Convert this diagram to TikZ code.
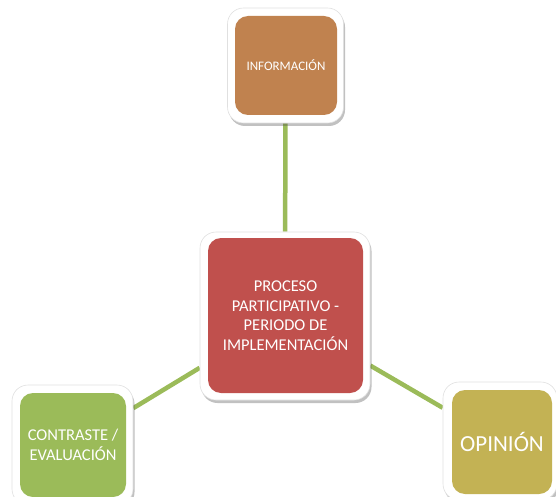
\documentclass[tikz,border=0pt]{standalone}
\usepackage{fontspec}
\setmainfont{Carlito}
\usetikzlibrary{backgrounds,shadows}
\definecolor{infoc}{HTML}{C0824F}
\definecolor{procc}{HTML}{C0504D}
\definecolor{contc}{HTML}{9BBB59}
\definecolor{opic}{HTML}{C3B254}
\definecolor{linkc}{HTML}{9BBB59}
\tikzset{
  frame/.style={draw=black!12, line width=0.6pt, fill=white, rounded corners=16pt, inner sep=0pt,
    drop shadow={opacity=0.35, shadow xshift=1.5pt, shadow yshift=-3pt, fill=black!70}},
  card/.style={draw=none, rounded corners=13pt, inner sep=2pt, text=white, align=center},
  link/.style={draw=linkc, line width=4.5pt}
}
\begin{document}
\begin{tikzpicture}[x=1pt,y=-1pt]
\useasboundingbox (0,0) rectangle (556,497);
% frames
\node[frame, minimum width=116pt, minimum height=115pt] (infoF) at (285.5,65.5) {};
\node[frame, minimum width=170pt, minimum height=168pt] (procF) at (285,316) {};
\node[frame, minimum width=121pt, minimum height=120pt] (contF) at (72.5,445) {};
\node[frame, minimum width=114pt, minimum height=118pt] (opiF) at (500,441) {};
% cards
\node[card, fill=infoc, minimum width=102pt, minimum height=99pt, font=\fontsize{13}{15}\selectfont] (info) at (286,65.5) {INFORMACIÓN};
\node[card, fill=procc, minimum width=155pt, minimum height=155pt, font=\fontsize{16.5}{19.5}\selectfont] (proc) at (285.5,315.5) {PROCESO\\PARTICIPATIVO -\\PERIODO DE\\IMPLEMENTACIÓN};
\node[card, fill=contc, minimum width=106pt, minimum height=104pt, font=\fontsize{16.5}{19.5}\selectfont] (cont) at (73,445) {CONTRASTE /\\EVALUACIÓN};
\node[card, fill=opic, minimum width=100pt, minimum height=104pt, font=\fontsize{23}{26}\selectfont] (opi) at (502,442) {OPINIÓN};
% connectors
\begin{pgfonlayer}{background}
\draw[link] (infoF) -- (procF);
\draw[link] (procF) -- (contF);
\draw[link] (procF) -- (opiF);
\end{pgfonlayer}
\end{tikzpicture}
\end{document}
